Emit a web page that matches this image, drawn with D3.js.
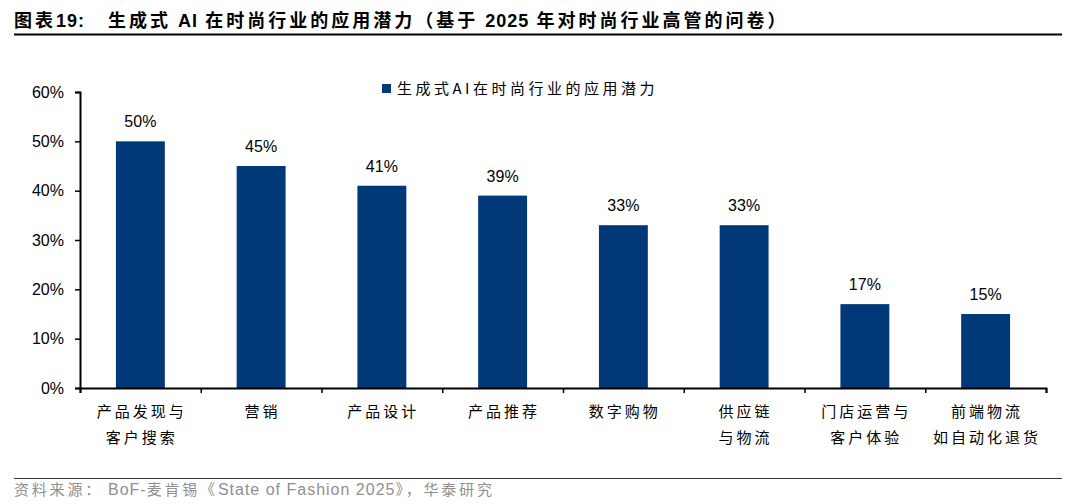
<!DOCTYPE html>
<html>
<head>
<meta charset="utf-8">
<script src="https://cdn.jsdelivr.net/npm/d3@7"></script>
<style>
  body { margin: 0; background: #fff; }
  svg { display: block; }
  text { font-family: "Liberation Sans", Arial, "Noto Sans CJK SC", sans-serif; }
  .cjk { font-family: "Noto Sans CJK SC", sans-serif; }
  .lat { font-family: "Liberation Sans", Arial, sans-serif; }
</style>
</head>
<body>
<div id="chart"></div>
<script>
// chart data
const categories = [
  ["产品发现与", "客户搜索"],
  ["营销"],
  ["产品设计"],
  ["产品推荐"],
  ["数字购物"],
  ["供应链", "与物流"],
  ["门店运营与", "客户体验"],
  ["前端物流", "如自动化退货"]
];
const values = [50, 45, 41, 39, 33, 33, 17, 15];
const yTicks = [0, 10, 20, 30, 40, 50, 60];
const seriesName = "生成式AI在时尚行业的应用潜力";
// title and source split into CJK / latin pieces
const titleParts = [
  ["cjk", "生成式 "],
  ["lat", "AI"],
  ["cjk", " 在时尚行业的应用潜力（基于 "],
  ["lat", "2025"],
  ["cjk", " 年对时尚行业高管的问卷）"]
];
const sourceParts = [
  ["cjk", "资料来源："],
  ["lat", "BoF-"],
  ["cjk", "麦肯锡《"],
  ["lat", "State of Fashion 2025"],
  ["cjk", "》，华泰研究"]
];

const W = 1080, H = 504;
const margin = { top: 92, right: 34, bottom: 116, left: 80 },
    width = W - margin.left - margin.right,
    height = H - margin.top - margin.bottom;

const root = d3.select("#chart")
    .append("svg")
    .attr("width", W)
    .attr("height", H);

// title
const title = root.append("text")
    .attr("x", 14)
    .attr("y", 27)
    .style("font-size", "18px")
    .style("font-weight", "bold")
    .attr("fill", "#000");
title.append("tspan").attr("class", "cjk").style("letter-spacing", "3px").text("图表");
title.append("tspan").attr("class", "lat").style("letter-spacing", "1px").text("19:");
titleParts.forEach((p, i) => {
    const t = title.append("tspan")
        .attr("class", p[0])
        .style("letter-spacing", p[0] === "cjk" ? "3px" : "1px")
        .text(p[1]);
    if (i === 0) t.attr("x", 108);
});

root.append("line")
    .attr("x1", 14).attr("x2", 1062)
    .attr("y1", 34.5).attr("y2", 34.5)
    .attr("stroke", "#000").attr("stroke-width", 1.8);

root.append("line")
    .attr("x1", 14).attr("x2", 1062)
    .attr("y1", 478.5).attr("y2", 478.5)
    .attr("stroke", "#333").attr("stroke-width", 1.2);

const source = root.append("text")
    .attr("x", 14)
    .attr("y", 495)
    .attr("fill", "#8f8f8f")
    .style("font-size", "15px");
sourceParts.forEach((p, i) => {
    const t = source.append("tspan")
        .attr("class", p[0])
        .style("letter-spacing", p[0] === "cjk" ? "2.8px" : "1px")
        .text(p[1]);
    if (p[0] === "lat") t.style("font-size", "16px");
    if (i === 1) t.attr("dx", 5);
});

const svg = root.append("g")
    .attr("transform", "translate(" + margin.left + "," + margin.top + ")");

const x = d3.scaleBand()
    .domain(d3.range(categories.length))
    .range([0, width])
    .paddingInner(0.595)
    .paddingOuter(0.2975);

const y = d3.scaleLinear()
    .domain([0, 60])
    .range([height, 0]);

// bars
svg.selectAll(".bar")
    .data(values)
    .enter()
    .append("rect")
    .attr("x", (d, i) => x(i))
    .attr("y", d => y(d))
    .attr("width", x.bandwidth())
    .attr("height", d => height - y(d))
    .attr("fill", "#003878");

// value labels
svg.selectAll(".val")
    .data(values)
    .enter()
    .append("text")
    .attr("x", (d, i) => x(i) + x.bandwidth() / 2)
    .attr("y", d => y(d) - 14)
    .attr("text-anchor", "middle")
    .style("font-size", "16px")
    .attr("fill", "#000")
    .text(d => d + "%");

// y axis
const yAxis = svg.append("g")
    .call(d3.axisLeft(y).tickValues(yTicks).tickSize(5).tickFormat(d => d + "%"));
yAxis.select(".domain").attr("stroke", "#000").attr("stroke-width", 2);
yAxis.selectAll(".tick line").attr("stroke", "#000").attr("stroke-width", 1.5);
yAxis.selectAll(".tick text")
    .attr("x", -16)
    .style("font-size", "16px")
    .style("font-family", "'Liberation Sans', Arial, sans-serif")
    .attr("fill", "#000");

// x axis with ticks between categories
const xLin = d3.scaleLinear().domain([0, categories.length]).range([0, width]);
const xAxis = svg.append("g")
    .attr("transform", "translate(0," + height + ")")
    .call(d3.axisBottom(xLin).ticks(categories.length).tickSize(5).tickFormat(""));
xAxis.select(".domain").attr("stroke", "#000").attr("stroke-width", 2);
xAxis.selectAll(".tick line").attr("stroke", "#000").attr("stroke-width", 1.5);

// category labels
const catLabels = svg.selectAll(".cat")
    .data(categories)
    .enter()
    .append("text")
    .attr("class", "cjk")
    .attr("text-anchor", "middle")
    .style("font-size", "15px")
    .style("letter-spacing", "3px")
    .attr("fill", "#000");
catLabels.each(function (lines, i) {
    const t = d3.select(this);
    lines.forEach((s, k) => {
        t.append("tspan")
            .attr("x", x(i) + x.bandwidth() / 2 + 1.5)
            .attr("y", height + 29 + k * 26)
            .text(s);
    });
});

// legend
const legend = root.append("g").attr("transform", "translate(382,84)");
legend.append("rect")
    .attr("width", 9).attr("height", 9)
    .attr("fill", "#003878");
legend.append("text")
    .attr("class", "cjk")
    .attr("x", 15)
    .attr("y", 10)
    .style("font-size", "15px")
    .style("letter-spacing", "3.5px")
    .attr("fill", "#000")
    .text(seriesName);
</script>
</body>
</html>
